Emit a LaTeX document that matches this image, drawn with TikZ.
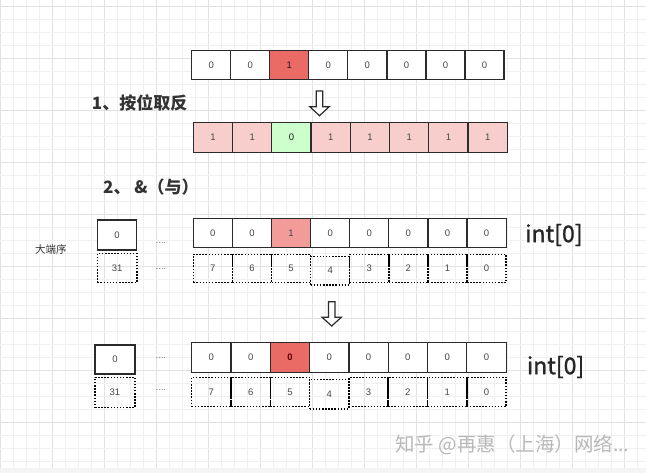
\documentclass[tikz,border=0pt]{standalone}
\usepackage{fontspec}
\setmainfont{Liberation Sans}
\newfontfamily\cjk{Noto Sans CJK SC}
\newfontfamily\cjkmed{Noto Sans CJK SC}[FakeBold=1.2]
\definecolor{gridminor}{HTML}{F0F0F0}
\definecolor{gridmajor}{HTML}{E2E2E2}
\definecolor{cellred}{HTML}{EA6B66}
\definecolor{cellpink}{HTML}{F8CECC}
\definecolor{cellgreen}{HTML}{CCFFCC}
\definecolor{cellsalmon}{HTML}{F19C99}
\definecolor{darkred}{HTML}{5C0000}
\definecolor{linegray}{HTML}{2B2B2B}
\tikzset{
  cell/.style={draw=linegray, line width=1.2pt, fill=white, minimum width=39pt, minimum height=29pt, inner sep=0pt, font=\fontsize{9.5}{10}\selectfont, text=black!72},
  dcell/.style={draw=black, line width=1.5pt, dash pattern=on 1.5pt off 1.6pt, minimum width=39pt, minimum height=28.5pt, inner sep=0pt, font=\fontsize{9.5}{10}\selectfont, text=black!72},
  dots/.style={inner sep=0pt, anchor=base, font=\fontsize{9}{10}\selectfont, text=black!60},
  title/.style={anchor=west, inner sep=0pt, font=\cjk\bfseries\fontsize{17}{20}\selectfont, text=black!80},
  intlabel/.style={anchor=west, inner sep=0pt, font=\cjkmed\fontsize{23}{26}\selectfont, text=black!85},
  blockarrow/.style={draw=linegray, line width=1.2pt, fill=white, line join=miter},
}
\begin{document}
\begin{tikzpicture}[x=1pt,y=-1pt]
\useasboundingbox (0,0) rectangle (646,473);
\fill[white] (0,0) rectangle (646,473);
% grid
\foreach \k in {0,...,49} {
  \pgfmathsetmacro\xx{13*\k}
  \pgfmathparse{mod(\k,4)==0 ? 1 : 0}
  \ifnum\pgfmathresult=1
    \draw[gridmajor, line width=0.7pt] (\xx,0) -- (\xx,473);
  \else
    \draw[gridminor, line width=0.6pt] (\xx,0) -- (\xx,473);
  \fi
}
\foreach \k in {0,...,36} {
  \pgfmathsetmacro\yy{6.3+13*\k}
  \pgfmathparse{mod(\k,4)==0 ? 1 : 0}
  \ifnum\pgfmathresult=1
    \draw[gridmajor, line width=0.7pt] (0,\yy) -- (646,\yy);
  \else
    \draw[gridminor, line width=0.6pt] (0,\yy) -- (646,\yy);
  \fi
}
\fill[black!4] (0,468) rectangle (646,473);

% row 1
\foreach \v [count=\i from 0] in {0,0,1,0,0,0,0,0} {
  \node[cell, minimum width=39.04pt, minimum height=28.6pt] (ra\i) at ({191.7+39.04*(\i+0.5)},65) {\v};
}
\node[cell, fill=cellred, text=black!90, minimum width=39.04pt, minimum height=28.6pt] at (ra2) {1};

% arrow 1
\coordinate (arA) at (319.5,91);
\draw[blockarrow] ([xshift=-3.3pt]arA) -- ([xshift=3.3pt]arA) -- ([xshift=3.3pt,yshift=-15.7pt]arA) -- ([xshift=9.7pt,yshift=-15.7pt]arA) -- ([yshift=-24.7pt]arA) -- ([xshift=-9.7pt,yshift=-15.7pt]arA) -- ([xshift=-3.3pt,yshift=-15.7pt]arA) -- cycle;

\node[title] (t1) at (91.7,102.7) {1、按位取反};

% row 2
\foreach \v [count=\i from 0] in {1,1,0,1,1,1,1,1} {
  \node[cell, fill=cellpink, minimum width=39.25pt, minimum height=29.6pt] (rb\i) at ({193.3+39.25*(\i+0.5)},137.5) {\v};
}
\node[cell, fill=cellgreen, text=black!90, minimum width=39.25pt, minimum height=29.6pt] at (rb2) {0};

\node[title] (t2) at (103,186.7) {2、 \&（与）};

% row 3
\node[anchor=west, inner sep=0pt, font=\cjk\fontsize{10.5}{12}\selectfont, text=black!80] (endian) at (35,250) {大端序};
\node[cell, minimum width=39.4pt, minimum height=30pt] (sa) at (117,235) {0};
\node[dcell, minimum width=39.7pt, minimum height=29pt] (sad) at (117.2,268) {31};
\node[dots] (da1) at (161,243.5) {....};
\node[dots] (da2) at (161,269.5) {....};
\foreach \v [count=\i from 0] in {0,0,1,0,0,0,0,0} {
  \node[cell, minimum width=39.1pt, minimum height=29pt] (rc\i) at ({193.3+39.1*(\i+0.5)},232.8) {\v};
}
\node[cell, fill=cellsalmon, minimum width=39.1pt, minimum height=29pt] at (rc2) {1};
\foreach \v [count=\i from 0] in {7,6,5,4,3,2,1,0} {
  \pgfmathsetmacro\dy{\i==3 ? 2.2 : 0}
  \node[dcell, minimum width=39.1pt, minimum height=28.4pt] (rcd\i) at ({193.3+39.1*(\i+0.5)},268.5+\dy) {\v};
}
\node[intlabel] (int1) at (525,235) {int[0]};

% arrow 2
\coordinate (arB) at (331.7,301.7);
\draw[blockarrow] ([xshift=-3.3pt]arB) -- ([xshift=3.3pt]arB) -- ([xshift=3.3pt,yshift=-15.5pt]arB) -- ([xshift=9.7pt,yshift=-15.5pt]arB) -- ([yshift=-24.3pt]arB) -- ([xshift=-9.7pt,yshift=-15.5pt]arB) -- ([xshift=-3.3pt,yshift=-15.5pt]arB) -- cycle;

% row 4
\node[cell, minimum width=40pt, minimum height=29pt] (sb) at (115,359.5) {0};
\node[dcell, minimum width=40pt, minimum height=30pt] (sbd) at (115,392.3) {31};
\node[dots] (db1) at (161,358.5) {....};
\node[dots] (db2) at (161,390.5) {....};
\foreach \v [count=\i from 0] in {0,0,0,0,0,0,0,0} {
  \node[cell, minimum width=39.3pt, minimum height=30pt] (rd\i) at ({191.7+39.3*(\i+0.5)},357.7) {\v};
}
\node[cell, fill=cellred, text=darkred, font=\bfseries\fontsize{9.5}{10}\selectfont, minimum width=39.3pt, minimum height=30pt] at (rd2) {0};
\foreach \v [count=\i from 0] in {7,6,5,4,3,2,1,0} {
  \pgfmathsetmacro\dy{\i==3 ? 2.2 : 0}
  \node[dcell, minimum width=39.3pt, minimum height=29.4pt] (rdd\i) at ({191.7+39.3*(\i+0.5)},392+\dy) {\v};
}
\node[intlabel] (int2) at (526.7,367) {int[0]};

% watermark
\node[anchor=west, inner sep=0pt, font=\cjk\fontsize{19.5}{22}\selectfont, text=black!28] (wm) at (395,445) {知乎 @再惠（上海）网络...};
\end{tikzpicture}
\end{document}
